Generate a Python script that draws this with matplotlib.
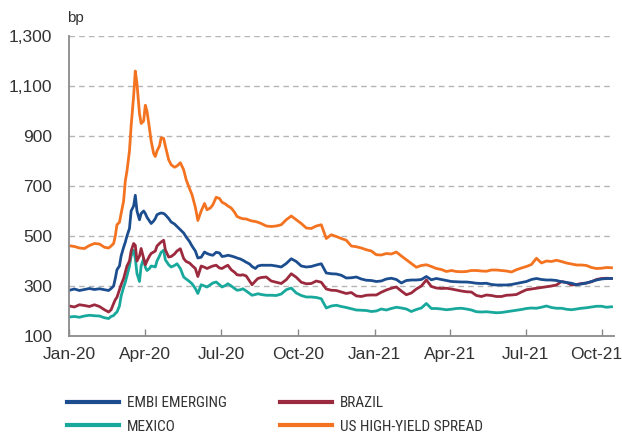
import matplotlib
matplotlib.use("Agg")
import matplotlib.pyplot as plt
import matplotlib.transforms as mtransforms
import pandas as pd
from matplotlib import font_manager
from matplotlib.font_manager import FontProperties

# ---------------- data ----------------
# sample dates, given as days since 2020-01-01
days_a = [0, 6, 12, 18, 24, 30, 36, 42, 47, 50]
days_b = [53, 55, 57, 60, 62, 65, 67, 69, 72, 74, 77, 79, 81, 84, 86, 89, 91, 93,
          96, 98, 101, 103, 105, 108, 110, 113, 115]
days_c = [119, 122, 126, 129, 133, 137, 140, 144, 147, 151, 154, 158, 162, 165,
          169, 172, 176, 180, 183, 187, 190, 194, 198, 201, 205, 208, 212, 216,
          219, 223, 226, 230]
days_d = list(range(236, 651, 6))
day_offsets = days_a + days_b + days_c + days_d

us_high_yield = [
    461, 458, 452, 450, 462, 470, 468, 455, 452, 460,
    470, 500, 545, 555, 590, 640, 720, 760, 840, 940, 1060, 1160, 1110, 990, 950,
    960, 1023, 1000, 930, 880, 830, 818, 840, 860, 893, 890, 860,
    805, 785, 775, 780, 793, 765, 725, 690, 665, 615, 562, 600, 630, 605, 612,
    625, 655, 650, 635, 628, 620, 612, 595, 578, 572, 569, 568, 563, 560, 558,
    555, 550,
    540, 538, 540, 545, 565, 580, 565, 550, 532, 530, 540, 545, 490, 505, 498,
    490, 483, 460, 457, 452, 445, 440, 425, 424, 430, 428, 436, 420, 405, 390,
    375, 382, 385, 378, 370, 366, 358, 362, 358, 357, 358, 362, 362, 360, 359,
    364, 364, 362, 360, 356, 365, 372, 378, 386, 411, 392, 400, 398, 403, 398,
    392, 388, 384, 384, 382, 374, 370, 371, 374, 373,
]

embi_emerging = [
    283, 288, 282, 286, 290, 286, 289, 285, 282, 290,
    300, 330, 365, 380, 420, 455, 475, 500, 530, 600, 620, 663, 600, 565, 590,
    600, 590, 575, 560, 550, 560, 570, 585, 590, 592, 590, 585,
    570, 556, 548, 538, 525, 512, 496, 478, 460, 440, 412, 415, 436, 430, 425,
    423, 435, 432, 418, 420, 423, 420, 416, 412, 408, 403, 395, 388, 378, 370,
    380, 383,
    383, 383, 380, 376, 390, 409, 398, 380, 376, 378, 384, 389, 352, 349, 348,
    343, 332, 333, 336, 328, 323, 322, 318, 320, 328, 331, 326, 312, 322, 324,
    324, 326, 338, 325, 330, 326, 322, 318, 317, 316, 316, 314, 311, 310, 311,
    306, 304, 304, 304, 306, 310, 314, 318, 326, 330, 326, 324, 324, 322, 317,
    314, 311, 305, 308, 312, 318, 324, 328, 330, 330,
]

brazil = [
    220, 216, 225, 222, 218, 225, 218, 205, 196, 205,
    230, 245, 255, 285, 305, 330, 355, 380, 400, 440, 470, 463, 400, 420, 450,
    410, 385, 400, 420, 430, 436, 440, 460, 470, 476, 483, 445,
    416, 418, 428, 440, 449, 410, 398, 392, 382, 370, 338, 380, 375, 370, 376,
    380, 383, 372, 370, 378, 383, 365, 355, 345, 343, 345, 340, 320, 305, 320,
    330, 334,
    336, 320, 315, 310, 325, 349, 335, 315, 309, 310, 320, 315, 288, 283, 282,
    276, 270, 274, 260, 258, 263, 264, 264, 275, 284, 291, 296, 280, 265, 272,
    288, 300, 324, 298, 292, 290, 291, 288, 284, 280, 277, 276, 262, 258, 264,
    262, 258, 258, 263, 264, 266, 276, 285, 288, 291, 294, 297, 300, 304, 318,
    314, 304, 306, 310, 312, 317, 326, 330, 331, 330,
]

mexico = [
    176, 178, 175, 180, 183, 181, 180, 173, 170, 178,
    182, 190, 196, 220, 260, 295, 315, 340, 380, 420, 443, 410, 350, 318, 380,
    410, 375, 362, 370, 380, 378, 376, 400, 420, 435, 443, 405,
    385, 376, 382, 389, 370, 336, 328, 318, 309, 290, 270, 305, 300, 296, 305,
    312, 316, 305, 296, 302, 309, 300, 290, 283, 285, 289, 280, 270, 263, 266,
    269, 266,
    263, 263, 262, 268, 285, 292, 272, 262, 256, 256, 254, 249, 212, 220, 223,
    218, 214, 209, 204, 203, 202, 198, 200, 208, 204, 210, 215, 212, 208, 198,
    206, 212, 230, 210, 210, 208, 205, 207, 210, 211, 208, 204, 197, 196, 197,
    195, 193, 194, 197, 200, 203, 206, 210, 212, 211, 215, 220, 214, 211, 211,
    207, 205, 208, 211, 213, 216, 219, 219, 215, 217,
]

series_names = ["EMBI EMERGING", "MEXICO", "BRAZIL", "US HIGH-YIELD SPREAD"]
series_values = [embi_emerging, mexico, brazil, us_high_yield]
series_colors = ["#1c4e8f", "#18a99c", "#9c2a3e", "#f47320"]

tick_dates = ["2020-01-01", "2020-04-01", "2020-07-01", "2020-10-01",
              "2021-01-01", "2021-04-01", "2021-07-01", "2021-10-01"]
tick_labels = ["Jan-20", "Apr-20", "Jul-20", "Oct-20",
               "Jan-21", "Apr-21", "Jul-21", "Oct-21"]
y_ticks = [100, 300, 500, 700, 900, 1100, 1300]
y_tick_labels = ["100", "300", "500", "700", "900", "1,100", "1,300"]
unit_label = "bp"

# ---------------- fonts ----------------
names = {f.name for f in font_manager.fontManager.ttflist}
base_font = "Liberation Sans" if "Liberation Sans" in names else "DejaVu Sans"
plt.rcParams["font.family"] = [base_font, "DejaVu Sans"]


def find_condensed():
    prefs = ["Liberation Sans Narrow", "Arial Narrow", "Roboto Condensed",
             "Open Sans Condensed", "Noto Sans", "Open Sans", "Roboto",
             "DejaVu Sans", "Lato", "Inter"]
    found = []
    for f in font_manager.fontManager.ttflist:
        st = str(f.stretch).lower()
        nm = f.name
        if f.style != "normal":
            continue
        w = f.weight
        try:
            w = int(w)
        except Exception:
            w = 400 if str(w).lower() in ("normal", "regular", "book") else 700
        if w < 300 or w > 500:
            continue
        cond = ("narrow" in nm.lower() or "condensed" in nm.lower()
                or st in ("condensed", "semi-condensed", "extra-condensed"))
        if "extra" in st or "ultra" in st or "extra" in nm.lower().split("condensed")[0][-6:]:
            continue
        if not cond:
            continue
        rank = len(prefs)
        for i, p in enumerate(prefs):
            if nm.startswith(p):
                rank = i
                break
        semi = 1 if "semi" in st or "semi" in nm.lower() else 0
        found.append((rank, semi, abs(w - 400), f.fname))
    if found:
        found.sort()
        return found[0][3]
    return None


cond_path = find_condensed()
if cond_path:
    legend_prop = FontProperties(fname=cond_path, size=11)
else:
    legend_prop = FontProperties(family=base_font, size=9.5)

# ---------------- figure ----------------
dates = pd.to_datetime("2020-01-01") + pd.to_timedelta(day_offsets, unit="D")

fig = plt.figure(figsize=(6.22, 4.34), dpi=100)
ax = fig.add_axes([69 / 622, 1 - 336 / 434, 545 / 622, 300 / 434])

lines = {}
for i in [3, 1, 2, 0]:
    ln, = ax.plot(dates, series_values[i], color=series_colors[i], lw=2.0,
                  solid_joinstyle="round", label=series_names[i])
    lines[i] = ln

ax.set_ylim(100, 1300)
ax.set_xlim(pd.Timestamp("2019-12-31 12:00"), pd.Timestamp("2021-10-15"))
ax.set_yticks(y_ticks)
ax.set_yticklabels(y_tick_labels)
ax.set_xticks(pd.to_datetime(tick_dates))
ax.set_xticklabels(tick_labels)

for v in y_ticks[1:]:
    ax.axhline(v, color="#b5b5b5", lw=1.0, ls=(0, (4, 3)), zorder=0)

for s in ["top", "right"]:
    ax.spines[s].set_visible(False)
for s in ["left", "bottom"]:
    ax.spines[s].set_color("#8a8a8c")
    ax.spines[s].set_linewidth(1.3)

ax.tick_params(axis="y", length=0, pad=12, labelsize=12.5, labelcolor="#333333")
ax.tick_params(axis="x", direction="in", length=5, width=1, color="#8a8a8c",
               pad=8, labelsize=12.5, labelcolor="#333333")

# the last month label sits slightly left of its tick, as in the source
last_lbl = ax.get_xticklabels()[-1]
last_lbl.set_transform(last_lbl.get_transform() +
                       mtransforms.ScaledTranslation(-6 / 100, 0, fig.dpi_scale_trans))

fig.text(67 / 622, 1 - 18 / 434, unit_label, fontsize=11, color="#333333",
         va="center", ha="left")

handles = [lines[0], lines[1], lines[2], lines[3]]
leg = fig.legend(handles, series_names, ncol=2, loc="upper left",
                 bbox_to_anchor=(67 / 622, 1 - 396 / 434), frameon=False,
                 borderpad=0, borderaxespad=0, handlelength=3.4,
                 handletextpad=0.5, columnspacing=3.5, labelspacing=0.63,
                 prop=legend_prop)
for t in leg.get_texts():
    t.set_color("#333333")
for h in leg.get_lines():
    h.set_linewidth(3.0)

fig.savefig("out.png", dpi=100)
